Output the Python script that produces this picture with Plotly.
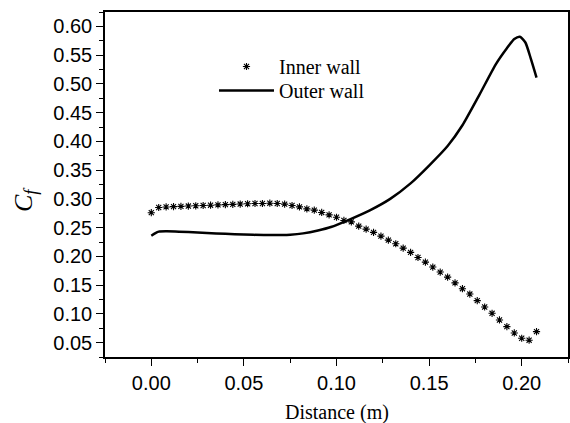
import plotly.graph_objects as go

# Inner wall (markers)
inner_x = [round(0.004 * i, 3) for i in range(53)]
inner_y = [0.276, 0.285, 0.286, 0.2865, 0.287, 0.2875, 0.288, 0.2885, 0.289, 0.2895,
           0.290, 0.2905, 0.291, 0.2915, 0.292, 0.292, 0.2925, 0.292, 0.2908, 0.2885,
           0.2861, 0.2826, 0.2804, 0.2764, 0.2722, 0.268, 0.2625, 0.260, 0.2526, 0.2474,
           0.2417, 0.2353, 0.2283, 0.222, 0.2144, 0.207, 0.198, 0.190, 0.1814, 0.1727,
           0.164, 0.154, 0.1438, 0.1345, 0.123, 0.112, 0.101, 0.0894, 0.0778, 0.0668,
           0.0576, 0.0542, 0.0691]

# Outer wall (line)
outer_x = [0.000, 0.002, 0.004, 0.008, 0.015, 0.025, 0.035, 0.045, 0.055, 0.065,
           0.075, 0.082, 0.090, 0.097, 0.107, 0.118, 0.129, 0.140, 0.150, 0.160,
           0.168, 0.177, 0.186, 0.192, 0.196, 0.199, 0.202, 0.205, 0.208]
outer_y = [0.236, 0.240, 0.243, 0.2435, 0.243, 0.2415, 0.240, 0.2385, 0.2375, 0.237,
           0.2378, 0.240, 0.245, 0.251, 0.264, 0.280, 0.300, 0.327, 0.358, 0.392,
           0.428, 0.480, 0.534, 0.562, 0.578, 0.582, 0.572, 0.543, 0.511]

x_ticks = [0.00, 0.05, 0.10, 0.15, 0.20]
x_ticklabels = ["0.00", "0.05", "0.10", "0.15", "0.20"]
y_ticks = [0.05, 0.10, 0.15, 0.20, 0.25, 0.30, 0.35, 0.40, 0.45, 0.50, 0.55, 0.60]
y_ticklabels = ["%.2f" % v for v in y_ticks]

SERIF = "Liberation Serif, Times New Roman, serif"
SANS = "Liberation Sans, Arial, sans-serif"

fig = go.Figure()
fig.add_trace(go.Scatter(
    x=inner_x, y=inner_y, mode="markers", name="Inner wall", legend="legend",
    marker=dict(symbol="asterisk-open", size=6, color="black",
                line=dict(color="black", width=1.1)),
))
fig.add_trace(go.Scatter(
    x=outer_x, y=outer_y, mode="lines", name="Outer wall", legend="legend2",
    line=dict(color="black", width=2.5, shape="spline", smoothing=0.6),
))

axis_common = dict(
    showline=True, linecolor="black", linewidth=1.5, mirror=True,
    showgrid=False, zeroline=False, ticks="outside", ticklen=7, tickwidth=1.2,
    tickcolor="black",
    tickfont=dict(family=SANS, size=20, color="black"),
)

fig.update_xaxes(
    range=[-0.025, 0.225], tickvals=x_ticks, ticktext=x_ticklabels,
    minor=dict(ticks="outside", ticklen=4, tickwidth=1.2, tickcolor="black", dtick=0.025, tick0=0.0),
    **axis_common,
)
fig.update_yaxes(
    range=[0.025, 0.625], tickvals=y_ticks, ticktext=y_ticklabels,
    minor=dict(ticks="outside", ticklen=4, tickwidth=1.2, tickcolor="black", dtick=0.025, tick0=0.025),
    **axis_common,
)

fig.add_annotation(
    xref="paper", yref="paper", x=0, y=0.455, xshift=-80, xanchor="center", yanchor="middle",
    text="<i>C<sub>f</sub></i>", textangle=-90, showarrow=False,
    font=dict(family=SERIF, size=26, color="black"),
)
fig.add_annotation(
    xref="paper", yref="paper", x=0.5, y=-0.162, xanchor="center", yanchor="middle",
    text="Distance (m)", showarrow=False,
    font=dict(family=SERIF, size=20, color="black"),
)

leg_common = dict(xanchor="left", yanchor="top", bgcolor="rgba(0,0,0,0)", borderwidth=0,
                  itemwidth=55, font=dict(family=SERIF, size=20, color="black"))
fig.update_layout(
    width=570, height=423,
    margin=dict(l=105, r=0, t=12, b=66),
    paper_bgcolor="white", plot_bgcolor="white",
    showlegend=True,
    legend=dict(x=0.2354, y=0.8986, **leg_common),
    legend2=dict(x=0.2354, y=0.829, **leg_common),
)

fig.write_html(
    "out.html",
    config={"displayModeBar": False},
    post_script="document.body.style.margin='0';document.body.style.overflow='hidden';"
                "document.documentElement.style.overflow='hidden';",
)
